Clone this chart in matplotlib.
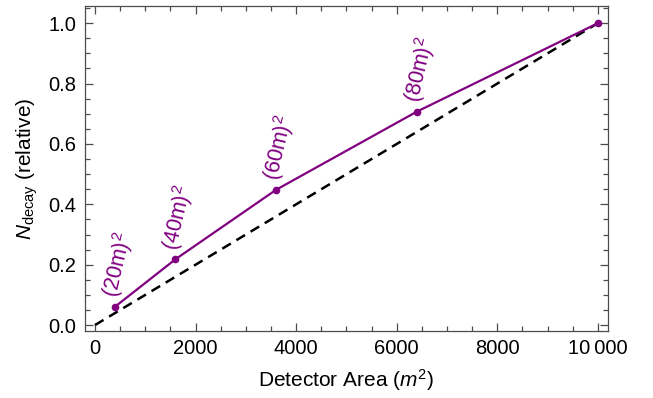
import matplotlib
matplotlib.use("Agg")
import matplotlib.pyplot as plt
from matplotlib.ticker import MultipleLocator

plt.rcParams['font.family'] = ['Liberation Sans', 'DejaVu Sans']
plt.rcParams['mathtext.fontset'] = 'custom'
plt.rcParams['mathtext.rm'] = 'Liberation Sans'
plt.rcParams['mathtext.it'] = 'Liberation Sans:italic'
plt.rcParams['mathtext.bf'] = 'Liberation Sans:bold'

# Data
area = [400, 1600, 3600, 6400, 10000]
n_decay = [0.061, 0.218, 0.448, 0.707, 1.0]
labels = ['(20m)$^2$', '(40m)$^2$', '(60m)$^2$', '(80m)$^2$']
ref_x = [0, 10000]
ref_y = [0.0, 1.0]

purple = '#800080'

fig = plt.figure(figsize=(6.53, 3.98), dpi=100)
ax = fig.add_axes([0.130, 0.168, 0.801, 0.817])

ax.plot(ref_x, ref_y, color='black', lw=1.8, ls=(0, (4, 2.6)), zorder=2)
ax.plot(area, n_decay, color=purple, lw=1.6, marker='o', ms=4.5, zorder=3)

for x, y, lab in zip(area[:-1], n_decay[:-1], labels):
    ax.annotate(lab, (x, y), xytext=(-3.5, 7), textcoords='offset points',
                rotation=77, rotation_mode='anchor', ha='left', va='center',
                color=purple, fontsize=15.5)

ax.set_xlim(-200, 10200)
ax.set_ylim(-0.02, 1.057)
ax.xaxis.set_major_locator(MultipleLocator(2000))
ax.xaxis.set_minor_locator(MultipleLocator(500))
ax.yaxis.set_major_locator(MultipleLocator(0.2))
ax.yaxis.set_minor_locator(MultipleLocator(0.05))
ax.set_xticks([0, 2000, 4000, 6000, 8000, 10000])
ax.set_xticklabels(['0', '2000', '4000', '6000', '8000', '10\u2009000'])
ax.set_yticks([0.0, 0.2, 0.4, 0.6, 0.8, 1.0])
ax.set_yticklabels(['0.0', '0.2', '0.4', '0.6', '0.8', '1.0'])

ax.tick_params(which='both', direction='in', top=True, right=True,
               labelsize=14.5, color='0.3', width=0.9)
ax.tick_params(which='major', length=6, pad=6)
ax.tick_params(which='minor', length=3.5)
for s in ax.spines.values():
    s.set_color('0.3')
    s.set_linewidth(0.9)

ax.set_xlabel('Detector Area ($m^2$)', fontsize=15, labelpad=6)
ax.set_ylabel('$N_{\\mathrm{decay}}$ (relative)', fontsize=15, labelpad=6)

fig.savefig('out.png', dpi=100)
